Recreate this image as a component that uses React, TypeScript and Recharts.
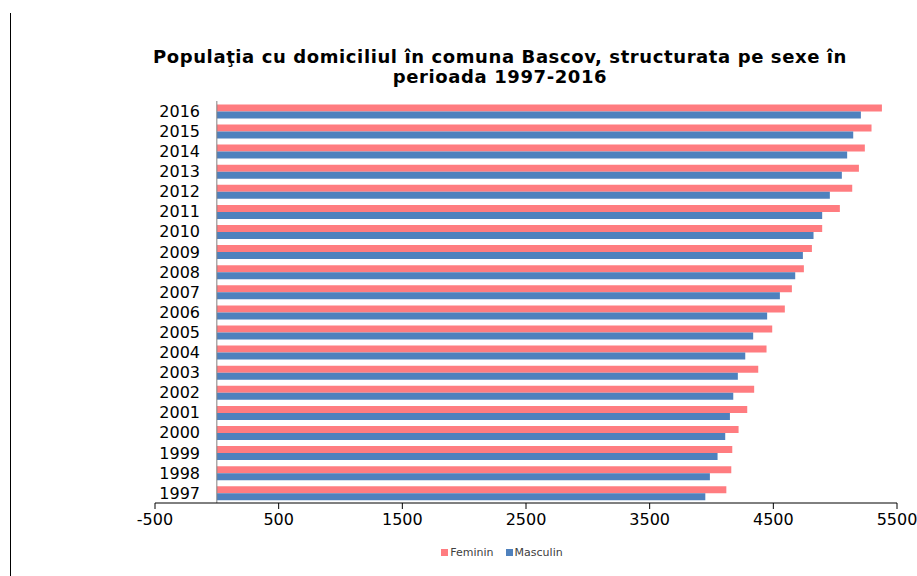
import { BarChart, Bar, XAxis, YAxis, ReferenceLine } from 'recharts';

const years = ['2016', '2015', '2014', '2013', '2012', '2011', '2010', '2009', '2008', '2007',
    '2006', '2005', '2004', '2003', '2002', '2001', '2000', '1999', '1998', '1997'];
const feminin = [5378, 5294, 5240, 5192, 5138, 5038, 4895, 4812, 4747, 4650,
    4593, 4491, 4445, 4378, 4345, 4289, 4219, 4168, 4160, 4120];
const masculin = [5208, 5146, 5097, 5054, 4957, 4895, 4825, 4739, 4677, 4553,
    4450, 4337, 4273, 4213, 4176, 4149, 4111, 4049, 3987, 3950];
const xTicks = [-500, 500, 1500, 2500, 3500, 4500, 5500];
const seriesNames = ['Feminin', 'Masculin'];
const colors = ['#FF7C80', '#4F81BD'];

const data = years.map((y, i) => ({ year: y, Feminin: feminin[i], Masculin: masculin[i] }));

const font = '"DejaVu Sans", "Liberation Sans", Arial, sans-serif';

function YearTick({ x, y, payload }: any) {
    // labels sit inside the negative part of the axis, right-aligned near zero
    return (
        <text x={x + 45} y={y} dy="0.36em" textAnchor="end" fontSize={16} fill="#000" fontFamily={font}>
            {payload.value}
        </text>
    );
}

export default function App() {
    return (
        <div style={{ position: 'absolute', left: 0, top: 0, width: 917, height: 576, background: '#fff', fontFamily: font }}>
            <div style={{ position: 'absolute', left: 10, top: 13, width: 0, height: 563, borderLeft: '1px solid #000' }} />
            <div style={{
                position: 'absolute', left: 100, top: 47, width: 800, textAlign: 'center',
                fontSize: 18, fontWeight: 'bold', lineHeight: '20px', color: '#000', letterSpacing: 0.6,
            }}>
                Populaţia cu domiciliul în comuna Bascov, structurata pe sexe în<br />perioada 1997-2016
            </div>
            <div style={{ position: 'absolute', left: 0, top: 0 }}>
                <BarChart
                    width={917}
                    height={576}
                    data={data}
                    layout="vertical"
                    margin={{ top: 101, right: 20, bottom: 43, left: 5 }}
                    barCategoryGap="17%"
                    barGap={0}
                >
                    <XAxis
                        type="number"
                        domain={[-500, 5500]}
                        ticks={xTicks}
                        allowDataOverflow
                        height={30}
                        axisLine={{ stroke: '#000' }}
                        tickLine={{ stroke: '#000' }}
                        tickSize={6}
                        tickMargin={5}
                        tick={{ fontSize: 16, fill: '#000', fontFamily: font }}
                    />
                    <YAxis
                        type="category"
                        dataKey="year"
                        width={150}
                        axisLine={false}
                        tickLine={false}
                        tickSize={0}
                        tickMargin={0}
                        interval={0}
                        tick={<YearTick />}
                    />
                    <Bar dataKey="Feminin" fill={colors[0]} isAnimationActive={false} />
                    <Bar dataKey="Masculin" fill={colors[1]} isAnimationActive={false} />
                    <ReferenceLine x={0} stroke="#808080" strokeWidth={1} />
                </BarChart>
            </div>
            <div style={{
                position: 'absolute', left: 0, top: 546, width: 1004, display: 'flex',
                justifyContent: 'center', fontSize: 11, color: '#404040', gap: 12,
            }}>
                {seriesNames.map((n, i) => (
                    <div key={n} style={{ display: 'flex', alignItems: 'center', gap: 2 }}>
                        <span style={{ display: 'inline-block', width: 7, height: 7, background: colors[i] }} />
                        <span>{n}</span>
                    </div>
                ))}
            </div>
        </div>
    );
}
